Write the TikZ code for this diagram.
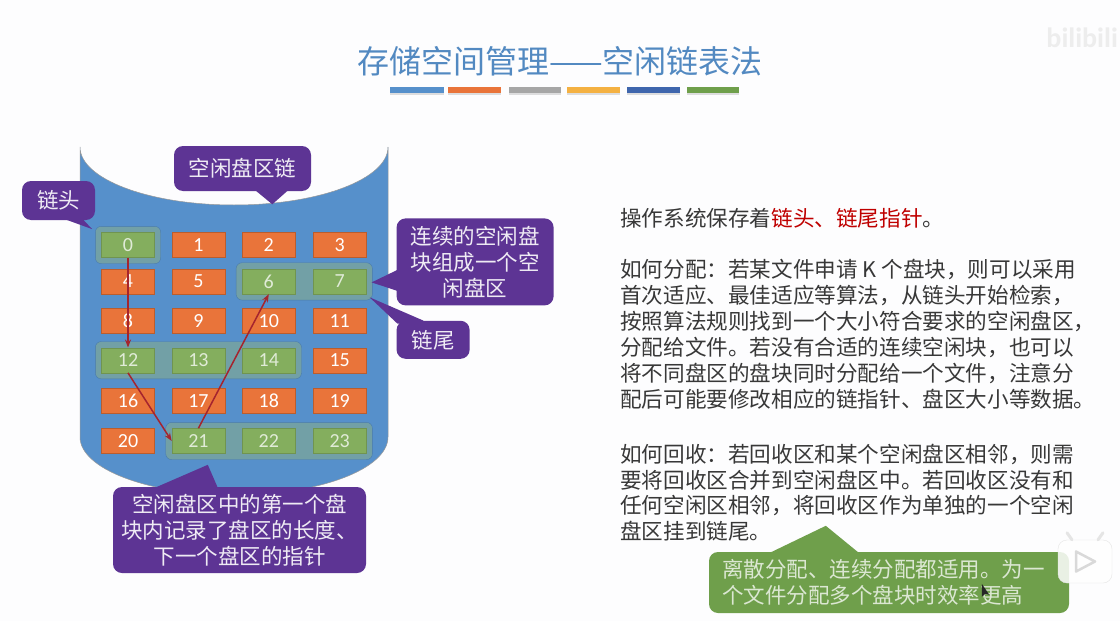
\documentclass[tikz,border=0pt]{standalone}
\usepackage{fontspec}
\setmainfont{Noto Sans CJK SC}
\newfontfamily\digitfont{Carlito}
\usetikzlibrary{positioning,fit,backgrounds,shadows,arrows.meta,calc}
\definecolor{slideBg}{HTML}{FDFDFE}
\definecolor{diskBlue}{HTML}{5690CB}
\definecolor{usedOrange}{HTML}{E9743A}
\definecolor{freeGreen}{HTML}{84AE5E}
\definecolor{frameTeal}{HTML}{72A0A6}
\definecolor{callPurple}{HTML}{5D3494}
\definecolor{callGreen}{HTML}{6F9F4B}
\definecolor{linkRed}{HTML}{A5242E}
\definecolor{barGold}{HTML}{F4B142}
\definecolor{barNavy}{HTML}{3F66AD}

\begin{document}
\begin{tikzpicture}[
    x=1pt, y=1pt,
    usedcell/.style={
      rectangle,
      draw=usedOrange!80!black,
      fill=usedOrange,
      text=white,
      font=\digitfont\fontsize{20}{20}\selectfont,
      minimum width=53pt,
      minimum height=25pt,
      inner sep=0pt,
    },
    freecell/.style={
      usedcell,
      draw=freeGreen!85!black,
      fill=freeGreen,
      text=freeGreen!25!white,
    },
    segframe/.style={
      rectangle,
      rounded corners=6pt,
      draw=diskBlue!85!black,
      fill=frameTeal,
      inner sep=6pt,
    },
    callbox/.style={
      rectangle,
      rounded corners=9pt,
      fill=callPurple,
      text=callPurple!10!white,
      font=\fontsize{21.5}{26}\selectfont,
      align=center,
      inner sep=0pt,
    },
    titlebar/.style={
      rectangle,
      minimum height=5.5pt,
      inner sep=0pt,
      drop shadow={opacity=0.25, shadow xshift=0pt, shadow yshift=-2pt},
    },
    para/.style={
      anchor=north west,
      align=left,
      inner sep=0pt,
      text=black!78,
      font=\fontsize{21.6}{25.9}\selectfont,
    },
    link/.style={
      draw=linkRed,
      line width=1.5pt,
      -{Stealth[length=8pt,width=6pt]},
    },
  ]
    \useasboundingbox (0,0) rectangle (1120,-621);

    % title
    \node[text=diskBlue!95!black, font=\fontsize{32}{32}\selectfont, inner sep=0pt] (Title) at (560,-61) {存储空间管理——空闲链表法};
    \node[titlebar, fill=diskBlue, minimum width=54pt] (BarA) at (417,-90) {};
    \node[titlebar, fill=usedOrange, minimum width=53pt, right=4pt of BarA] (BarB) {};
    \node[titlebar, fill=black!35, minimum width=52pt, right=7pt of BarB] (BarC) {};
    \node[titlebar, fill=barGold, minimum width=53pt, right=6pt of BarC] (BarD) {};
    \node[titlebar, fill=barNavy, minimum width=53pt, right=6pt of BarD] (BarE) {};
    \node[titlebar, fill=callGreen, minimum width=52pt, right=7pt of BarE] (BarF) {};
    \node[text=black!7, font=\digitfont\bfseries\fontsize{28}{28}\selectfont, inner sep=0pt, anchor=east] (Mark) at (1118,-38) {bilibili};

    % disk blocks, row by row
    \node[freecell] (c0) at (128,-245) {0};
    \node[usedcell, right=17pt of c0] (c1) {1};
    \node[usedcell, right=17pt of c1] (c2) {2};
    \node[usedcell, right=17.5pt of c2] (c3) {3};
    \node[usedcell, below=11pt of c0] (c4) {4};
    \node[usedcell, right=17pt of c4] (c5) {5};
    \node[freecell, right=17pt of c5] (c6) {6};
    \node[freecell, right=17.5pt of c6] (c7) {7};
    \node[usedcell, below=14pt of c4] (c8) {8};
    \node[usedcell, right=17pt of c8] (c9) {9};
    \node[usedcell, right=17pt of c9] (c10) {10};
    \node[usedcell, right=17.5pt of c10] (c11) {11};
    \node[freecell, below=14pt of c8] (c12) {12};
    \node[freecell, right=17pt of c12] (c13) {13};
    \node[freecell, right=17pt of c13] (c14) {14};
    \node[usedcell, right=17.5pt of c14] (c15) {15};
    \node[usedcell, below=15pt of c12] (c16) {16};
    \node[usedcell, right=17pt of c16] (c17) {17};
    \node[usedcell, right=17pt of c17] (c18) {18};
    \node[usedcell, right=17.5pt of c18] (c19) {19};
    \node[usedcell, below=15pt of c16] (c20) {20};
    \node[freecell, right=17pt of c20] (c21) {21};
    \node[freecell, right=17pt of c21] (c22) {22};
    \node[freecell, right=17.5pt of c22] (c23) {23};

    \begin{scope}[on background layer]
      \fill[slideBg] (0,0) rectangle (1120,-621);
      \filldraw[fill=diskBlue, draw=black!40, line width=0.5pt] (80,-147)
        arc[start angle=180, end angle=360, x radius=154pt, y radius=58pt]
        -- (388,-437)
        arc[start angle=0, end angle=-180, x radius=154pt, y radius=58pt]
        -- cycle;
      \node[segframe, fit=(c0)] (SegA) {};
      \node[segframe, fit=(c6)(c7)] (SegB) {};
      \node[segframe, fit=(c12)(c14)] (SegC) {};
      \node[segframe, fit=(c21)(c23)] (SegD) {};
    \end{scope}

    % free list links
    \draw[link] (c0.south) -- (c12.north);
    \draw[link] (c12.south) -- (c21.west);
    \draw[link] (c21.north) -- (c6.south);

    % callouts
    \node[callbox, minimum width=137pt, minimum height=45pt] (ChainCall) at (242.5,-168.5) {空闲盘区链};
    \node[callbox, minimum width=73pt, minimum height=39pt] (HeadCall) at (58.5,-200.5) {链头};
    \node[callbox, minimum width=157pt, minimum height=87pt, right=30pt of c7, yshift=19.5pt] (SegCall) {连续的空闲盘\\块组成一个空\\闲盘区};
    \node[callbox, minimum width=73pt, minimum height=38pt, below right=15pt and 0pt of SegCall.south west] (TailCall) {链尾};
    \node[callbox, minimum width=253pt, minimum height=86pt] (FirstCall) at (239.5,-530) {空闲盘区中的第一个盘\\块内记录了盘区的长度、\\下一个盘区的指针};

    \coordinate (ChainTip) at ($(c2.north)+(3.5,28)$);
    \fill[callPurple] ($(ChainCall.south east)+(-56,1)$) -- (ChainTip) -- ($(ChainCall.south east)+(-23,1)$) -- cycle;
    \coordinate (HeadTip) at ($(SegA.north west)+(-3,-3)$);
    \fill[callPurple] ($(HeadCall.south west)+(43,1)$) -- (HeadTip) -- ($(HeadCall.south west)+(61,1)$) -- cycle;
    \coordinate (SegTip) at ($(SegB.east)+(-1,-1)$);
    \fill[callPurple] ($(SegCall.west)+(1,-8)$) -- (SegTip) -- ($(SegCall.west)+(1,-29)$) -- cycle;
    \coordinate (TailTip) at ($(SegB.south east)+(-3,3)$);
    \fill[callPurple] ($(TailCall.north west)+(1,-3)$) -- (TailTip) -- ($(TailCall.north west)+(27,-0)$) -- ($(TailCall.north west)+(27,-4)$) -- cycle;
    \coordinate (FirstTip) at ($(FirstCall.north west)+(95,22)$);
    \fill[callPurple] ($(FirstCall.north west)+(42,-1)$) -- (FirstTip) -- ($(FirstCall.north west)+(105,-1)$) -- cycle;

    % right column
    \node[para] (OsText) at (620,-208) {操作系统保存着\textcolor{red!75!black}{链头、链尾指针}。};
    \node[para, below=31pt of OsText.south west, anchor=north west] (AllocText) {如何分配：若某文件申请 K 个盘块，则可以采用\\
      首次适应、最佳适应等算法，从链头开始检索，\\
      按照算法规则找到一个大小符合要求的空闲盘区，\\
      分配给文件。若没有合适的连续空闲块，也可以\\
      将不同盘区的盘块同时分配给一个文件，注意分\\
      配后可能要修改相应的链指针、盘区大小等数据。};
    \node[para, below=34pt of AllocText.south west, anchor=north west] (FreeText) {如何回收：若回收区和某个空闲盘区相邻，则需\\
      要将回收区合并到空闲盘区中。若回收区没有和\\
      任何空闲区相邻，将回收区作为单独的一个空闲\\
      盘区挂到链尾。};

    \node[rectangle, rounded corners=9pt, fill=callGreen, text=callGreen!25!white, minimum width=360pt, minimum height=61pt, text width=334pt, inner sep=0pt, align=left, font=\fontsize{21.5}{26}\selectfont] (NoteCall) at (889,-582.5) {离散分配、连续分配都适用。为一\\个文件分配多个盘块时效率更高};
    \coordinate (NoteTip) at ($(NoteCall.north west)+(117,26)$);
    \fill[callGreen] ($(NoteCall.north west)+(61,-1)$) -- (NoteTip) -- ($(NoteCall.north west)+(150,-1)$) -- cycle;

    % player overlay
    \node[rectangle, rounded corners=9pt, draw=black!10, fill=white, fill opacity=0.85, minimum width=54pt, minimum height=43pt, inner sep=0pt] (PlayIcon) at (1085,-561.5) {};
    \draw[black!10, line width=3pt, line cap=round] ($(PlayIcon.north)+(-13,0)$) -- ($(PlayIcon.north)+(-18,7)$);
    \draw[black!10, line width=3pt, line cap=round] ($(PlayIcon.north)+(13,0)$) -- ($(PlayIcon.north)+(18,7)$);
    \draw[black!15, line width=2.5pt, line join=round] ($(PlayIcon.center)+(-9,10)$) -- ($(PlayIcon.center)+(10,0)$) -- ($(PlayIcon.center)+(-9,-10)$) -- cycle;
    \coordinate (CursorTip) at ($(NoteCall.north west)+(273,-32)$);
    \fill[black!85] (CursorTip) -- ++(0,-13) -- ++(3.5,3) -- ++(4,-1) -- cycle;
  \end{tikzpicture}
\end{document}
